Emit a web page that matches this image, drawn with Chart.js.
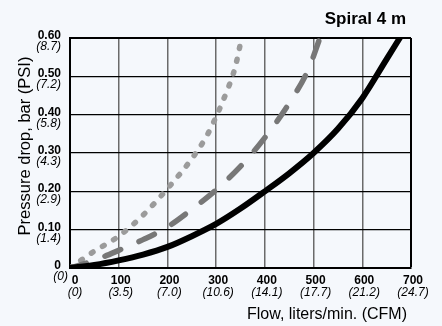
<!DOCTYPE html>
<html>
<head>
<meta charset="utf-8">
<script src="https://cdn.jsdelivr.net/npm/chart.js@4"></script>
<style>
  html, body { margin: 0; padding: 0; background: #f5f8fc; }
  canvas { display: block; }
</style>
</head>
<body>
<canvas id="chart" width="442" height="326"></canvas>
<script>
// ======= Data =======
// flow in liters/min, pressure drop in bar
const solidFlow  = [0, 50, 100, 150, 200, 250, 300, 350, 400, 450, 500, 550, 600, 650, 677];
const solidDrop  = [0, 0.008, 0.02, 0.035, 0.055, 0.083, 0.115, 0.155, 0.2, 0.247, 0.3, 0.363, 0.443, 0.545, 0.6];

const dashedFlow = [0, 50, 100, 150, 200, 250, 300, 350, 400, 450, 490, 513];
const dashedDrop = [0, 0.02, 0.046, 0.074, 0.107, 0.153, 0.204, 0.265, 0.34, 0.43, 0.52, 0.6];

const dottedFlow = [0, 50, 100, 150, 200, 250, 280, 300, 320, 336, 344, 352];
const dottedDrop = [0, 0.044, 0.083, 0.138, 0.207, 0.285, 0.343, 0.395, 0.455, 0.51, 0.55, 0.6];

// tick labels
const flowTicks = [0, 100, 200, 300, 400, 500, 600, 700];
const cfmLabels = ["(0)", "(3.5)", "(7.0)", "(10.6)", "(14.1)", "(17.7)", "(21.2)", "(24.7)"];
const barTicks  = [0, 0.1, 0.2, 0.3, 0.4, 0.5, 0.6];
const barLabels = ["0", "0.10", "0.20", "0.30", "0.40", "0.50", "0.60"];
const psiLabels = ["(0)", "(1.4)", "(2.9)", "(4.3)", "(5.8)", "(7.2)", "(8.7)"];

const chartTitle = "Spiral 4 m";
const xTitle = "Flow, liters/min. (CFM)";
const yTitle = "Pressure drop, bar (PSI)";

const FONT = '"Liberation Sans", Arial, sans-serif';

function toPoints(xs, ys) {
  return xs.map((x, i) => ({ x: x, y: ys[i] }));
}

// ======= Text / background plugin =======
const paperPlugin = {
  id: "paper",
  beforeDraw(chart) {
    const ctx = chart.ctx;
    ctx.save();
    ctx.fillStyle = "#f5f8fc";
    ctx.fillRect(0, 0, chart.width, chart.height);
    ctx.restore();
  },
  afterDraw(chart) {
    const ctx = chart.ctx;
    const xs = chart.scales.x;
    const ys = chart.scales.y;
    ctx.save();
    ctx.fillStyle = "#000";
    ctx.textBaseline = "alphabetic";

    // y tick labels: bar (bold) over psi (italic)
    barTicks.forEach((v, i) => {
      const py = ys.getPixelForValue(v);
      ctx.textAlign = "right";
      ctx.font = "bold 12px " + FONT;
      ctx.fillText(barLabels[i], 61, py + 1);
      ctx.font = "italic 12px " + FONT;
      ctx.fillText(psiLabels[i], v === 0 ? 68 : 61, py + 12);
    });

    // x tick labels: flow (bold) over cfm (italic)
    flowTicks.forEach((v, i) => {
      const px = xs.getPixelForValue(v) + 2;
      ctx.textAlign = "center";
      ctx.font = "bold 12px " + FONT;
      ctx.fillText(String(v), v === 0 ? px + 3 : px, 284);
      ctx.font = "italic 12px " + FONT;
      ctx.fillText(cfmLabels[i], v === 0 ? px + 3 : px, 296);
    });

    // titles
    ctx.textAlign = "right";
    ctx.font = "bold 17px " + FONT;
    ctx.fillText(chartTitle, 406, 24);

    ctx.font = "16px " + FONT;
    ctx.fillText(xTitle, 407, 319);

    ctx.translate(30, 146);
    ctx.rotate(-Math.PI / 2);
    ctx.textAlign = "center";
    ctx.font = "16.5px " + FONT;
    ctx.fillText(yTitle, 0, 0);
    ctx.restore();
  }
};

// ======= Chart =======
const edge = (ctx, max, inner, outer) => (ctx.tick && ctx.tick.value === max ? outer : inner);

new Chart(document.getElementById("chart"), {
  type: "line",
  data: {
    datasets: [
      {
        data: toPoints(solidFlow, solidDrop),
        borderColor: "#000",
        borderWidth: 6,
        borderCapStyle: "round",
        cubicInterpolationMode: "monotone",
        pointRadius: 0
      },
      {
        data: toPoints(dashedFlow, dashedDrop),
        borderColor: "#777",
        borderWidth: 5.5,
        borderDash: [17, 20],
        borderCapStyle: "round",
        cubicInterpolationMode: "monotone",
        pointRadius: 0
      },
      {
        data: toPoints(dottedFlow, dottedDrop),
        borderColor: "#9b9b9b",
        borderWidth: 5.5,
        borderDash: [2, 11],
        borderCapStyle: "round",
        cubicInterpolationMode: "monotone",
        pointRadius: 0
      }
    ]
  },
  options: {
    responsive: false,
    devicePixelRatio: 1,
    animation: false,
    layout: { padding: { left: 70, right: 31, top: 38, bottom: 58 } },
    plugins: { legend: { display: false }, tooltip: { enabled: false }, title: { display: false } },
    scales: {
      x: {
        type: "linear",
        min: 0,
        max: 700,
        ticks: { display: false, stepSize: 100 },
        grid: {
          drawTicks: false,
          color: (c) => edge(c, 700, "#6a6a6a", "#000"),
          lineWidth: (c) => edge(c, 700, 1.5, 2)
        },
        border: { color: "#000", width: 2 },
        afterFit: (s) => { s.height = 0; }
      },
      y: {
        type: "linear",
        min: 0,
        max: 0.6,
        ticks: { display: false, stepSize: 0.1 },
        grid: {
          drawTicks: false,
          color: "#000",
          lineWidth: (c) => edge(c, 0.6, 1.3, 2)
        },
        border: { color: "#000", width: 2 },
        afterFit: (s) => { s.width = 0; }
      }
    }
  },
  plugins: [paperPlugin]
});
</script>
</body>
</html>
